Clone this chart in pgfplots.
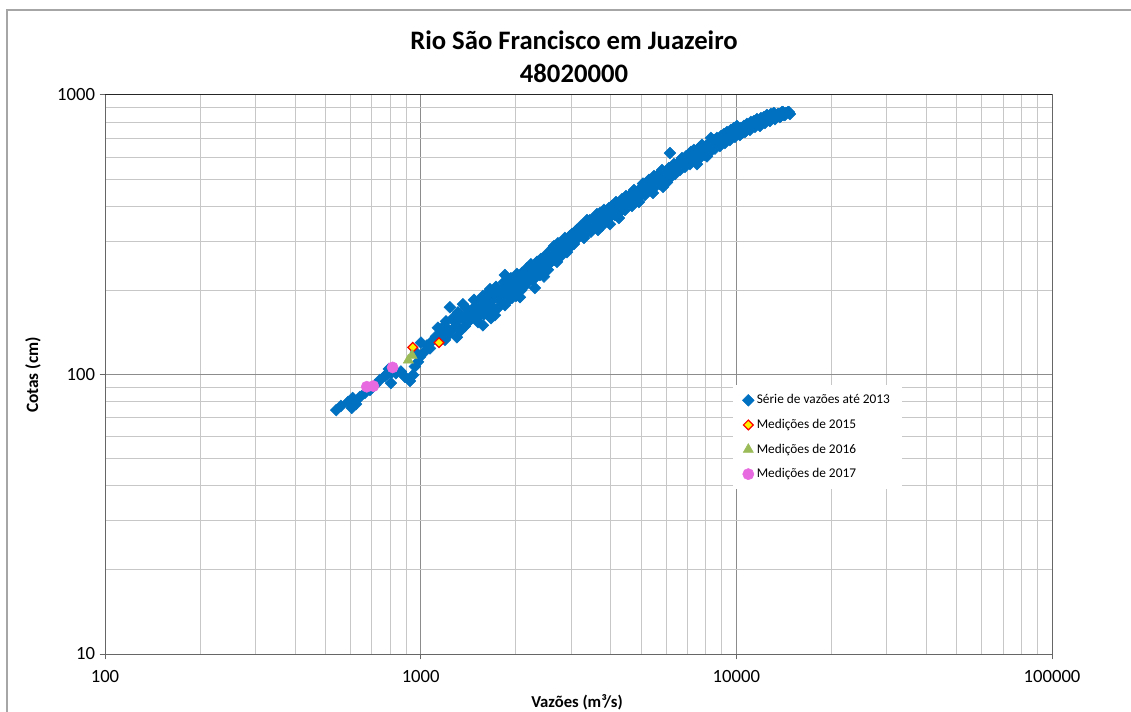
\documentclass[border=0pt]{standalone}
\usepackage{fontspec}
\setmainfont{Carlito}
\usepackage{pgfplots}
\usepackage{pgfplotstable}
\pgfplotsset{compat=1.18}

\definecolor{serieblue}{RGB}{0,112,192}
\definecolor{medgreen}{RGB}{155,187,89}
\definecolor{medpink}{RGB}{232,106,224}

% serie de vazoes ate 2013 (vazao m3/s, cota cm)
\pgfplotstableread{
q h
540 74.6
559 77.2
589 79.8
605 75.9
624 78.4
609 82.4
642 83.1
666 85.9
691 88.0
717 91.7
743 95.6
771 98.8
782 100.3
805 93.2
805 101
835 101
866 102.5
892 98
925 94.8
946 99.6
793 104.7
959 106.8
981 111
995 115.7
966 120
1024 120
1047 127
1002 130
1086 131.5
1118 136.9
1160 142.7
1070 124
1194 133
1185 149
1220 138
1238 174
1256 144
1284 154
1303 135.9
1332 159
1361 178.5
1381 149
1402 164
1433 157
1454 170
1486 175
1508 159
1541 185
1541 167
1575 150
1598 177
1634 191
1658 170
1658 202
1694 185
1719 163
1744 197.5
1783 188
1809 202
1849 227
1849 177
1890 197.5
1918 213
1946 188
1989 221
1989 200
2018 206
2063 189
2094 231
2140 216
2171 240
2219 221
2301 204
2301 237
2352 253
2387 227
2440 246
2476 263
2531 237
2568 268
2625 284
2663 257
2722 295
2762 268
2823 279
2865 308
2928 290
2971 313
3037 303
3082 324
3150 308
3196 334
3267 318
3315 345
3388 324
3438 357
3514 340
3592 368
3645 329
3698 378
3780 351
3864 363
3921 381
3978 345
4066 394
4126 372
4217 404
4279 381
4372 411
4438 388
4536 428
4603 404
4704 435
4809 421
4880 450
4988 465
5061 482
5135 439
5250 473
5326 457
5445 446
5524 487
5647 505
5729 480
5857 469
5941 517
6073 530
6162 620
6162 505
6299 548
6391 521
6532 562
6628 539
6775 576
6874 553
7026 595
7129 566
7287 603
7394 585
7558 620
7669 595
7839 636
7954 610
8130 652
8310 702
8249 626
8431 663
8555 643
8745 685
8873 657
9070 702
9202 673
9406 725
9544 690
9756 731
9899 708
10118 750
10266 719
10493 762
10648 737
10884 775
11043 750
11287 794
11453 769
11706 807
11878 775
12140 820
12319 794
12590 834
12776 807
13058 848
13251 820
13545 855
13743 834
14049 869
14253 848
14570 869
14782 855
1134 147
1168 134.5
1203 155
1229 144
1265 159
1294 149
1313 167
1342 144
1361 159
1391 173
1412 154
1443 164
1476 185
1497 167
1519 154
1552 175
1575 191
1586 164
1622 182
1646 197.5
1670 159
1682 175
1706 191
1732 206
1757 173
1770 186
1796 197.5
1822 185
1836 214
1863 193
1876 204
1904 185
1932 221
1946 200
1975 211
2004 191
2018 229
2048 214
2078 200
2109 221
2124 206
2156 237
2187 214
2203 229
2235 248
2268 218
2285 240
2318 224
2335 253
2370 237
2404 259
2422 244
2458 224
2494 253
2512 270
2549 248
2587 274
2606 257
2644 288
2683 270
2702 253
2742 284
2782 265
2803 293
2844 279
2886 297
2907 274
2950 303
2993 288
3015 318
3059 293
3105 308
3127 329
3173 313
3219 340
3243 324
3291 308
3339 334
3363 357
3413 340
3463 324
3489 351
3540 363
3566 340
3618 375
3671 351
3725 366
3752 340
3808 388
3836 375
3893 357
3949 394
4008 369
4037 401
4096 381
4156 414
4186 388
4248 363
4310 408
4341 424
4405 398
4470 435
4503 408
4569 421
4637 442
4671 401
4739 457
4844 435
4915 414
5024 442
5098 473
5173 450
5287 497
5365 473
5484 513
5565 473
5688 521
5771 497
5813 539
5899 505
5985 530
6029 487
6117 548
6253 521
6345 566
6437 539
6580 576
6677 548
6726 595
6824 566
6924 603
6975 576
7078 595
7181 626
7234 585
7341 636
7448 603
7503 566
7613 646
7725 615
7782 663
7897 626
8012 657
8071 603
8190 668
8370 646
8493 690
8617 657
8681 702
8808 668
8937 713
9004 679
9136 725
9270 690
9338 737
9475 708
9614 750
9685 713
9827 762
9970 731
10042 775
10192 744
10342 762
10418 731
10570 775
10725 744
10804 788
10962 756
11123 801
11204 769
11370 807
11537 781
11621 820
11792 788
11965 827
12052 801
12230 834
12409 814
12500 848
12684 820
12870 855
12964 834
13155 862
13348 841
13644 855
13844 841
13946 869
14150 848
14358 862
14676 869
}\serieate

\pgfplotstableread{
q h
944 125
1143 130
}\medA

\pgfplotstableread{
q h
914 112.5
939 117
}\medB

\pgfplotstableread{
q h
815 106
675 90.4
708 90.9
}\medC

\begin{document}
\begin{tikzpicture}
\useasboundingbox (-78.75pt,-42.75pt) rectangle (769.5pt,490.5pt);
\draw[black!35, line width=1pt] (-73.5pt,-60pt) -- (-73.5pt,483pt) -- (800pt,483pt);
\begin{axis}[
    at={(0pt,0pt)}, anchor=south west,
    scale only axis,
    width=710.25pt, height=419.25pt,
    xmode=log, ymode=log,
    xmin=100, xmax=100000,
    ymin=10, ymax=1000,
    xtick={100,1000,10000,100000},
    xticklabels={100,1000,10000,100000},
    ytick={10,100,1000},
    yticklabels={10,100,1000},
    minor xtick={200,300,400,500,600,700,800,900,2000,3000,4000,5000,6000,7000,8000,9000,20000,30000,40000,50000,60000,70000,80000,90000},
    minor ytick={20,30,40,50,60,70,80,90,200,300,400,500,600,700,800,900},
    grid=both,
    major grid style={black!45, line width=0.75pt},
    minor grid style={black!22, line width=0.75pt},
    axis line style={black!60, line width=0.75pt},
    tick style={black!60, line width=0.75pt},
    tick align=outside,
    tick pos=left,
    major tick length=4pt,
    minor tick length=0pt,
    ticklabel style={font=\fontsize{14}{16}\selectfont},
    xticklabel style={yshift=-5pt},
    legend style={
        at={(0.663,0.481)}, anchor=north west,
        draw=none, fill=white,
        font=\fontsize{10}{12}\selectfont,
        row sep=6pt, inner xsep=7pt, inner ysep=5pt,
    },
    legend cell align=left,
]
\addplot[only marks, mark=square*, mark size=3.1pt,
    mark options={rotate=45, fill=serieblue, draw=serieblue}]
    table[x=q, y=h] {\serieate};
\addlegendentry{Série de vazões até 2013}
\addplot[only marks, mark=square*, mark size=2.6pt,
    mark options={rotate=45, fill=yellow, draw=red, line width=0.9pt}]
    table[x=q, y=h] {\medA};
\addlegendentry{Medições de 2015}
\addplot[only marks, mark=triangle*, mark size=4.4pt,
    mark options={fill=medgreen, draw=medgreen}]
    table[x=q, y=h] {\medB};
\addlegendentry{Medições de 2016}
\addplot[only marks, mark=*, mark size=4.2pt,
    mark options={fill=medpink, draw=medpink}]
    table[x=q, y=h] {\medC};
\addlegendentry{Medições de 2017}
\end{axis}
\draw[black!85, line width=0.75pt] (0pt,419.25pt) -- (710.25pt,419.25pt);
\node[font=\bfseries\fontsize{20}{24.75}\selectfont, align=center]
    at (351.75pt,448pt) {Rio São Francisco em Juazeiro\\48020000};
\node[font=\bfseries\fontsize{12.5}{15}\selectfont] at (354pt,-36pt) {Vazões (m³/s)};
\node[font=\bfseries\fontsize{13}{15}\selectfont, rotate=90] at (-54pt,209.25pt) {Cotas (cm)};
\end{tikzpicture}
\end{document}
